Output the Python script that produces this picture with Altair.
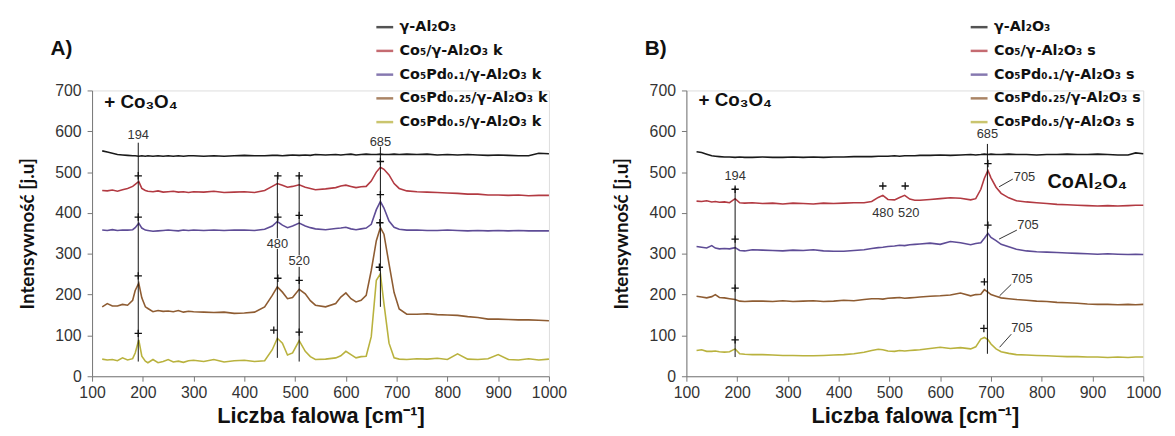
import altair as alt
import pandas as pd

# ---------------- Panel A data (wavenumber grid and spectra) ----------------
xa = [120, 130, 140, 150, 160, 170, 180, 185, 192, 198, 205, 210, 220, 230, 240, 250, 260, 270, 280, 290,
      300, 320, 340, 360, 380, 400, 420, 440, 455, 465, 475, 485, 495, 508, 520, 530, 540, 560, 580, 590,
      600, 610, 620, 630, 640, 650, 660, 668, 675, 685, 695, 705, 720, 740, 760, 780, 800, 820, 840, 860,
      880, 900, 920, 940, 960, 980, 1000]
a_al2o3 = [552, 549, 546, 543, 542, 541, 540, 540, 539, 540, 539, 540, 539, 540, 539, 540, 539, 540, 539, 540,
           540, 539, 540, 539, 540, 541, 540, 540, 541, 541, 540, 541, 542, 541, 542, 541, 543, 542, 543, 542,
           543, 544, 542, 543, 544, 543, 543, 544, 543, 543, 544, 543, 544, 543, 544, 542, 543, 542, 543, 542,
           541, 542, 541, 540, 540, 546, 545]
a_co5 = [455, 454, 456, 453, 457, 460, 465, 470, 477, 460, 455, 453, 452, 454, 451, 452, 453, 451, 452, 450,
         452, 451, 453, 450, 451, 452, 450, 455, 465, 472, 468, 463, 465, 469, 463, 460, 457, 459, 462, 466,
         468, 465, 462, 464, 465, 478, 500, 512, 507, 493, 472, 460, 454, 452, 451, 450, 449, 448, 446, 446,
         444, 444, 443, 444, 442, 443, 443]
a_pd01 = [358, 357, 359, 357, 358, 358, 359, 364, 375, 363, 358, 357, 355, 356, 357, 358, 357, 356, 358, 357,
          358, 357, 358, 357, 358, 358, 357, 360, 368, 379, 370, 364, 368, 375, 368, 364, 361, 359, 362, 363,
          365, 361, 359, 361, 363, 372, 408, 428, 412, 380, 365, 360, 358, 358, 357, 357, 358, 357, 356, 357,
          356, 357, 356, 357, 356, 356, 356]
a_pd025 = [170, 178, 172, 172, 176, 174, 186, 210, 228, 192, 170, 166, 158, 161, 159, 160, 158, 161, 157, 159,
           158, 157, 156, 157, 154, 155, 157, 170, 198, 219, 206, 190, 193, 213, 202, 185, 174, 170, 178, 194,
           204, 190, 182, 186, 198, 259, 332, 364, 348, 275, 205, 165, 152, 152, 153, 151, 150, 149, 146, 144,
           140, 140, 139, 138, 138, 137, 136]
a_pd05 = [42, 40, 41, 38, 45, 40, 43, 57, 89, 49, 37, 33, 41, 33, 36, 41, 35, 37, 34, 38,
          39, 36, 41, 35, 38, 39, 36, 38, 65, 93, 81, 52, 57, 87, 61, 48, 41, 42, 45, 50,
          61, 53, 45, 48, 49, 97, 235, 251, 178, 81, 45, 42, 41, 43, 42, 44, 41, 55, 42, 41,
          43, 53, 41, 40, 43, 40, 42]

# ---------------- Panel B data ----------------
xb = [120, 130, 140, 150, 157, 165, 175, 185, 196, 205, 215, 230, 250, 270, 290, 310, 330, 350, 370, 390,
      410, 430, 450, 465, 478, 487, 497, 510, 520, 530, 540, 550, 560, 580, 600, 620, 640, 660, 670, 680,
      687, 694, 700, 710, 720, 735, 750, 770, 790, 810, 830, 850, 870, 890, 910, 930, 950, 970, 985, 1000]
b_al2o3 = [550, 548, 544, 540, 539, 538, 537, 537, 536, 537, 536, 536, 537, 536, 536, 537, 536, 537, 536, 537,
           537, 538, 538, 538, 539, 539, 539, 540, 539, 540, 540, 540, 541, 541, 542, 541, 542, 543, 542, 543,
           544, 543, 544, 543, 543, 544, 543, 543, 542, 543, 543, 544, 543, 543, 544, 543, 542, 542, 547, 545]
b_co5 = [429, 428, 430, 427, 428, 426, 427, 425, 435, 425, 424, 425, 423, 424, 422, 424, 423, 422, 424, 423,
         424, 425, 425, 428, 438, 443, 433, 432, 438, 443, 434, 431, 431, 433, 435, 437, 436, 432, 435, 458,
         485, 504, 486, 463, 448, 437, 430, 427, 425, 423, 421, 420, 419, 418, 417, 418, 417, 418, 419, 419]
b_pd01 = [318, 316, 314, 320, 314, 312, 313, 312, 315, 308, 307, 310, 309, 308, 307, 309, 308, 310, 307, 306,
          306, 308, 310, 313, 315, 316, 318, 319, 321, 320, 322, 323, 324, 326, 323, 330, 327, 322, 325, 327,
          338, 350, 340, 332, 323, 317, 311, 307, 305, 304, 303, 302, 301, 300, 299, 300, 299, 298, 299, 298]
b_pd025 = [196, 194, 192, 195, 200, 193, 192, 190, 188, 184, 183, 184, 184, 183, 185, 183, 184, 185, 183, 184,
           186, 185, 188, 190, 190, 189, 191, 192, 193, 191, 192, 193, 194, 196, 197, 199, 204, 197, 200, 201,
           212, 206, 200, 196, 192, 190, 188, 186, 184, 183, 181, 180, 179, 177, 176, 176, 175, 176, 175, 176]
b_pd05 = [63, 65, 61, 61, 62, 60, 59, 60, 67, 55, 54, 53, 53, 52, 51, 51, 50, 50, 51, 52,
          53, 55, 59, 63, 66, 65, 62, 61, 63, 62, 63, 64, 65, 68, 71, 68, 70, 67, 72, 91,
          95, 90, 79, 67, 60, 56, 53, 52, 51, 50, 49, 48, 48, 47, 47, 46, 47, 46, 47, 47]

A_NAMES = ["γ-Al₂O₃", "Co₅/γ-Al₂O₃ k", "Co₅Pd₀.₁/γ-Al₂O₃ k", "Co₅Pd₀.₂₅/γ-Al₂O₃ k", "Co₅Pd₀.₅/γ-Al₂O₃ k"]
B_NAMES = ["γ-Al₂O₃", "Co₅/γ-Al₂O₃ s", "Co₅Pd₀.₁/γ-Al₂O₃ s", "Co₅Pd₀.₂₅/γ-Al₂O₃ s", "Co₅Pd₀.₅/γ-Al₂O₃ s"]
COLORS = ["#1a1a1a", "#b23a42", "#5e4c96", "#8e5c32", "#b9b23e"]

X_TICKS = [100, 150, 200, 250, 300, 350, 400, 450, 500, 550, 600, 650, 700, 750, 800, 850, 900, 950, 1000]
Y_TICKS = [0, 50, 100, 150, 200, 250, 300, 350, 400, 450, 500, 550, 600, 650, 700]

# ---------------- Annotations ----------------
# Panel A vertical marker segments
a_rule_x = [191, 465, 465, 508, 508, 668]
a_rule_y = [572, 494, 312, 494, 268, 562]
a_rule_y2 = [36, 338, 45, 296, 36, 170]
# Panel A "+" markers
a_plus_x = [191, 191, 191, 191, 466, 466, 466, 458, 508, 508, 508, 508, 668, 668, 667, 666]
a_plus_y = [491, 390, 246, 105, 491, 390, 240, 113, 491, 394, 235, 108, 526, 445, 376, 267]
# Panel A peak labels
a_lab_x = [191, 465, 508, 668]
a_lab_y = [591, 324, 282, 574]
a_lab_t = ["194", "480", "520", "685"]

# Panel B vertical marker segments
b_rule_x = [196, 693]
b_rule_y = [463, 569]
b_rule_y2 = [47, 55]
# Panel B "+" markers
b_plus_x = [196, 196, 196, 196, 487, 531, 694, 694, 687, 686]
b_plus_y = [458, 336, 216, 89, 466, 466, 521, 370, 231, 117]
# Panel B labels
b_lab_x = [196, 693, 487, 538, 766, 773, 761, 761]
b_lab_y = [490, 593, 399, 399, 488, 370, 237, 117]
b_lab_t = ["194", "685", "480", "520", "705", "705", "705", "705"]
# Panel B leader lines for 705
b_lead_x = [716, 716, 717, 717]
b_lead_x2 = [743, 751, 740, 740]
b_lead_y = [464, 336, 197, 71]
b_lead_y2 = [483, 358, 225, 103]

FONT = "Liberation Sans"


def long_df(x, series, names):
    rows = []
    for name, vals in zip(names, series):
        for xv, yv in zip(x, vals):
            rows.append({"x": xv, "y": yv, "series": name})
    return pd.DataFrame(rows)


def panel(x, series, names, rx, ry, ry2, px, py, lx, ly, lt, big_label, co3o4_y,
          lead=None, extra_text=None):
    df = long_df(x, series, names)
    xs = alt.Scale(domain=[100, 1000], nice=False)
    ys = alt.Scale(domain=[0, 700], nice=False)
    x_axis = alt.Axis(values=X_TICKS, format="d",
                      labelExpr="datum.value % 100 == 0 ? datum.label : ''",
                      title="Liczba falowa  [cm⁻¹]", titleFont=FONT, titleFontSize=22,
                      titleFontWeight="bold", titleColor="#111", labelFont=FONT, labelFontSize=16,
                      labelColor="#333", grid=False, domainColor="#777", tickColor="#777",
                      tickSize=5, labelPadding=4, titlePadding=5, labelOverlap=False, labelFlush=False)
    y_axis = alt.Axis(values=Y_TICKS, format="d",
                      labelExpr="datum.value % 100 == 0 ? datum.label : ''",
                      title="Intensywność [j.u]", titleFont="Lato", titleFontSize=19,
                      titleFontWeight="bold", titleColor="#111", labelFont=FONT, labelFontSize=16,
                      labelColor="#333", grid=False, domainColor="#777", tickColor="#777",
                      tickSize=5, labelPadding=6, titlePadding=18, labelOverlap=False)
    lines = alt.Chart(df).mark_line(strokeWidth=1.6).encode(
        x=alt.X("x:Q", scale=xs, axis=x_axis),
        y=alt.Y("y:Q", scale=ys, axis=y_axis),
        color=alt.Color("series:N", sort=names,
                        scale=alt.Scale(domain=names, range=COLORS),
                        legend=alt.Legend(title=None, orient="none", legendX=286, legendY=-74,
                                          symbolType="stroke", symbolStrokeWidth=2.5, symbolSize=290,
                                          symbolOpacity=0.75,
                                          labelFont="DejaVu Sans", labelFontSize=14.5,
                                          labelFontWeight="bold",
                                          labelColor="#111", rowPadding=7, padding=0, labelOffset=5,
                                          labelLimit=400)),
    )
    rules = alt.Chart(pd.DataFrame({"x": rx, "y": ry, "y2": ry2})).mark_rule(
        color="#111", strokeWidth=1).encode(x="x:Q", y="y:Q", y2="y2:Q")
    plus = alt.Chart(pd.DataFrame({"x": px, "y": py})).mark_point(
        shape="M-1,0L1,0M0,-1L0,1", size=55, filled=False, color="#111", strokeWidth=1.3,
        opacity=1).encode(x="x:Q", y="y:Q")
    labels = alt.Chart(pd.DataFrame({"x": lx, "y": ly, "t": lt})).mark_text(
        font=FONT, fontSize=13, color="#333", baseline="middle", align="center").encode(
        x="x:Q", y="y:Q", text="t:N")
    co3o4 = alt.Chart(pd.DataFrame({"x": [124], "y": [co3o4_y], "t": ["+  Co₃O₄"]})).mark_text(
        font=FONT, fontSize=19, fontWeight="bold", color="#111", align="left",
        baseline="middle").encode(x="x:Q", y="y:Q", text="t:N")
    title = alt.Chart(pd.DataFrame({"t": [big_label]})).mark_text(
        font=FONT, fontSize=21, fontWeight="bold", color="#111", align="left",
        baseline="middle").encode(x=alt.value(-42), y=alt.value(-42), text="t:N")
    layers = [lines, rules, plus, labels, co3o4, title]
    if lead is not None:
        layers.append(alt.Chart(pd.DataFrame(lead)).mark_rule(color="#333", strokeWidth=1).encode(
            x="x:Q", x2="x2:Q", y="y:Q", y2="y2:Q"))
    if extra_text is not None:
        layers.append(alt.Chart(pd.DataFrame(extra_text)).mark_text(
            font=FONT, fontSize=20, fontWeight="bold", color="#111", align="center",
            baseline="middle").encode(x="x:Q", y="y:Q", text="t:N"))
    return alt.layer(*layers).properties(width=462, height=289)


chart_a = panel(xa, [a_al2o3, a_co5, a_pd01, a_pd025, a_pd05], A_NAMES,
                a_rule_x, a_rule_y, a_rule_y2, a_plus_x, a_plus_y, a_lab_x, a_lab_y, a_lab_t,
                "A)", 672)
chart_b = panel(xb, [b_al2o3, b_co5, b_pd01, b_pd025, b_pd05], B_NAMES,
                b_rule_x, b_rule_y, b_rule_y2, b_plus_x, b_plus_y, b_lab_x, b_lab_y, b_lab_t,
                "B)", 676,
                lead={"x": b_lead_x, "x2": b_lead_x2, "y": b_lead_y, "y2": b_lead_y2},
                extra_text={"x": [890], "y": [476], "t": ["CoAl₂O₄"]})

chart = alt.hconcat(chart_a, chart_b, spacing=44).resolve_scale(color="independent").resolve_legend(
    color="independent").configure_view(stroke=None).configure(background="white").properties(
    padding={"left": 9, "top": 6, "right": 5, "bottom": 2})

chart.save("out.html", embed_options={"renderer": "svg", "actions": False})
